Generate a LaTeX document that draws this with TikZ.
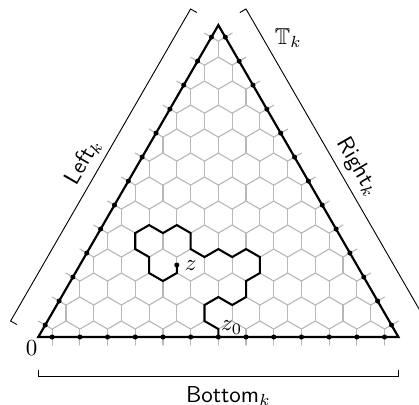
\documentclass[tikz,border=0pt]{standalone}
\usepackage{amssymb}
\newcommand\insidetri[3]{\pgfmathtruncatemacro#3{and(and((#2)>0,(#2)<1.7320508*(#1)),(#2)<1.7320508*(13-(#1)))}}
\begin{document}
\begin{tikzpicture}[x=0.43478pt, y=-0.43478pt,
  latt/.style={draw=black!28, line width=0.5pt, line cap=round},
  bnd/.style={draw=black, line width=0.95pt},
  walk/.style={draw=black, line width=0.9pt},
  brk/.style={draw=black, line width=0.4pt},
  dotm/.style={fill=black}]
\useasboundingbox (0,0) rectangle (419,404);
% brackets (image px coordinates, y downwards)
\draw[brk] (38.3,370) -- (38.3,376.7) -- (398.3,376.7) -- (398.3,370);
\draw[brk] (16.8,324.5) -- (10.6,321) -- (190.6,9) -- (196.8,12.5);
\draw[brk] (239.8,12.5) -- (246,9) -- (426,321) -- (419.8,324.5);
% labels
\node[rotate=60] (leftlab) at (83.3,161.7) {\textsf{Left}$_k$};
\node[rotate=-60] (rightlab) at (357.5,167) {\textsf{Right}$_k$};
\node[anchor=base west, inner sep=0pt] (tlab) at (274.5,44.5) {$\mathbb{T}_k$};
\node (zerolab) at (31.7,348) {$0$};
\node[anchor=base, inner sep=0pt] (botlab) at (228.3,402.5) {\textsf{Bottom}$_k$};
% lattice, triangle, walk
\begin{scope}[shift={(38.3,337)}, x=12.0435pt, y=12.0435pt]
\foreach \j in {-1,...,13}{
 \foreach \i in {-1,...,14}{
  \pgfmathsetmacro\ax{\i+\j/2}
  \pgfmathsetmacro\ay{\j*0.8660254+0.5773503}
  \pgfmathsetmacro\lx{\ax-0.5}
  \pgfmathsetmacro\rx{\ax+0.5}
  \pgfmathsetmacro\ly{\ay-0.2886751}
  \pgfmathsetmacro\uy{\ay+0.5773503}
  \insidetri{\ax}{\ay}{\ia}
  \insidetri{\lx}{\ly}{\ib}
  \insidetri{\rx}{\ly}{\ic}
  \insidetri{\ax}{\uy}{\id}
  \ifnum\numexpr\ia+\ib\relax>0 \draw[latt] (\ax,\ay) -- (\lx,\ly);\fi
  \ifnum\numexpr\ia+\ic\relax>0 \draw[latt] (\ax,\ay) -- (\rx,\ly);\fi
  \ifnum\numexpr\ia+\id\relax>0 \draw[latt] (\ax,\ay) -- (\ax,\uy);\fi
 }
}
\coordinate (c0) at (0,0);
\coordinate (c1) at (13,0);
\coordinate (c2) at (6.5,11.2583);
\draw[bnd] (c0) -- (c1) -- (c2) -- cycle;
\begin{scope}[y=3.4767pt]
\coordinate (z0) at (6.5,0);
\coordinate (z) at (5,9);
\draw[walk] (z0) -- (6.5,1) -- (6,2) -- (6,4) -- (6.5,5) -- (7,4) -- (7.5,5) -- (7.5,7) -- (8,8) -- (8,10) -- (7.5,11) -- (7,10) -- (6.5,11) -- (6,10) -- (5.5,11) -- (5.5,13) -- (5,14) -- (4.5,13) -- (4,14) -- (3.5,13) -- (3.5,11) -- (4,10) -- (4,8) -- (4.5,7) -- (5,8) -- (z);
\fill[dotm] (z) circle (1.1pt);
\end{scope}
\foreach \k in {0,...,12}{
  \fill[dotm] (\k+0.5,0) circle (1.1pt);
  \fill[dotm] ({(\k+0.5)/2},{(\k+0.5)*0.8660254}) circle (1.1pt);
  \fill[dotm] ({13-(\k+0.5)/2},{(\k+0.5)*0.8660254}) circle (1.1pt);
}
\node[right] (zlab) at (z) {$z$};
\node[anchor=south west, inner sep=1pt] (z0lab) at (z0) {$z_0$};
\end{scope}
\end{tikzpicture}
\end{document}
